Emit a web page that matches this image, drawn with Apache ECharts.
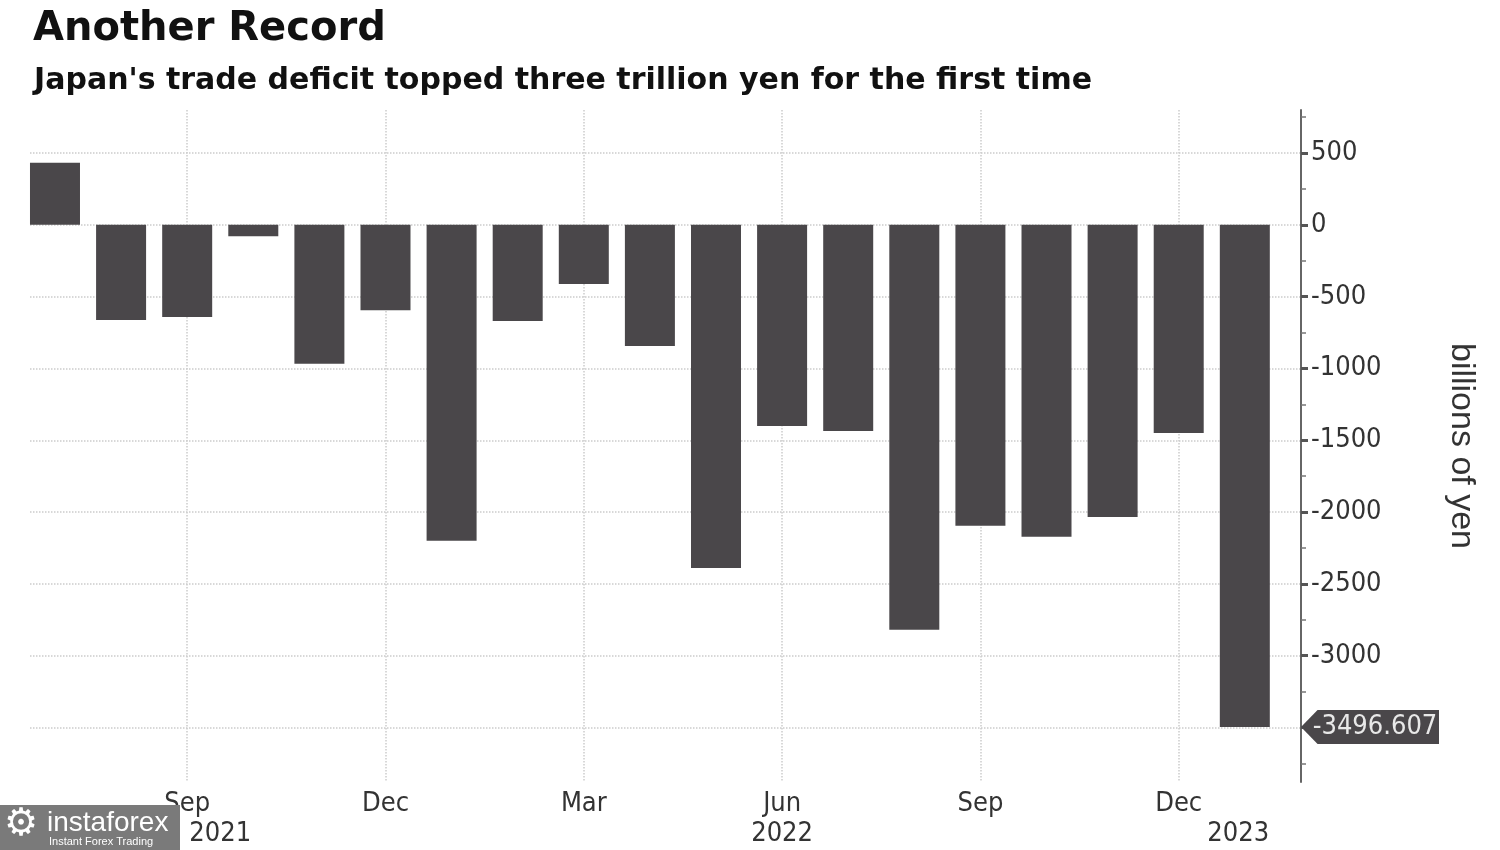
<!DOCTYPE html>
<html><head><meta charset="utf-8">
<script src="https://cdn.jsdelivr.net/npm/echarts@6/dist/echarts.min.js"></script>
<style>html,body{margin:0;padding:0;background:#fff}#c{width:1500px;height:850px}</style>
</head><body><div id="c"></div>
<script>
// Data
const months = ['Jul','Aug','Sep','Oct','Nov','Dec','Jan','Feb','Mar','Apr','May','Jun','Jul','Aug','Sep','Oct','Nov','Dec','Jan'];
const years  = ['2021','2021','2021','2021','2021','2021','2022','2022','2022','2022','2022','2022','2022','2022','2022','2022','2022','2022','2023'];
const balance = [432, -662, -641, -80, -968, -595, -2200, -669, -411, -843, -2389, -1400, -1435, -2820, -2096, -2172, -2034, -1449, -3496.607];
const monthTicks = [2, 5, 8, 11, 14, 17];
const yearTicks = [2.5, 11, 17.9];
const yearLabels = ['2021', '2022', '2023'];
const yMajor = [500, 0, -500, -1000, -1500, -2000, -2500, -3000, -3500];
const yMinor = [750, 250, -250, -750, -1250, -1750, -2250, -2750, -3250, -3750];

const X_MIN = -0.378, X_MAX = 18.85, Y_MIN = -3880, Y_MAX = 800;
const labelFont = "'Liberation Sans Narrow', 'DejaVu Sans Condensed', 'Liberation Sans', sans-serif";
const textColor = '#333';
const gridLine = {show: true, lineStyle: {type: 'dotted', color: '#cccccc', width: 1.5}};

const chart = echarts.init(document.getElementById('c'));
const lastIdx = balance.length - 1;
chart.setOption({
  backgroundColor: '#fff',
  animation: false,
  title: [
    {text: 'Another Record', left: 28, top: 5,
     textStyle: {fontFamily: 'DejaVu Sans', fontWeight: 'bold', fontSize: 40, color: '#111'}},
    {text: "Japan's trade deficit topped three trillion yen for the first time", left: 29, top: 61,
     textStyle: {fontFamily: 'DejaVu Sans', fontWeight: 'bold', fontSize: 30, color: '#111'}}
  ],
  grid: {left: 30, right: 199, top: 110, bottom: 68},
  xAxis: [
    {type: 'value', position: 'bottom', min: X_MIN, max: X_MAX,
     axisLine: {show: false, onZero: false}, axisTick: {show: false, customValues: monthTicks},
     axisLabel: {customValues: monthTicks, margin: 8, fontSize: 27, color: textColor, fontFamily: labelFont,
                 formatter: v => months[Math.round(v)]},
     splitLine: gridLine},
    {type: 'value', position: 'bottom', min: X_MIN, max: X_MAX,
     axisLine: {show: false, onZero: false}, axisTick: {show: false, customValues: yearTicks},
     axisLabel: {customValues: yearTicks, margin: 38, fontSize: 27, color: textColor, fontFamily: labelFont,
                 formatter: v => yearLabels[yearTicks.indexOf(v)]},
     splitLine: {show: false}}
  ],
  yAxis: [
    {type: 'value', position: 'right', min: Y_MIN, max: Y_MAX,
     axisLine: {show: true, onZero: false, lineStyle: {color: '#666', width: 2}},
     axisTick: {show: true, inside: false, length: 7, customValues: yMajor, lineStyle: {color: '#555', width: 3}},
     axisLabel: {customValues: yMajor, margin: 10, fontSize: 27, color: textColor, fontFamily: labelFont,
                 formatter: v => String(v)},
     splitLine: gridLine,
     name: 'billions of yen', nameLocation: 'middle', nameRotate: -90, nameGap: 143,
     nameTextStyle: {fontSize: 34, color: textColor, fontFamily: 'Liberation Sans'}},
    {type: 'value', position: 'right', min: Y_MIN, max: Y_MAX,
     axisLine: {show: false, onZero: false},
     axisTick: {show: true, inside: false, length: 5, customValues: yMinor, lineStyle: {color: '#777', width: 1.5}},
     axisLabel: {show: false}, splitLine: {show: false}}
  ],
  series: [{
    type: 'bar', xAxisIndex: 0, yAxisIndex: 0, barWidth: 50,
    itemStyle: {color: '#4a474a'},
    data: balance.map((v, i) => [i, v]),
    markPoint: {
      silent: true,
      symbol: 'path://M0,50 L12,0 L100,0 L100,100 L12,100 Z',
      symbolKeepAspect: false,
      symbolSize: [138, 34],
      symbolOffset: [69, 0],
      itemStyle: {color: '#4a474a'},
      label: {show: true, color: '#e8e8e8', fontSize: 27, fontFamily: labelFont, offset: [5, 0],
              formatter: p => String(p.value)},
      data: [{coord: [X_MAX, balance[lastIdx]], value: balance[lastIdx]}]
    }
  }],
  graphic: [
    {type: 'rect', left: 0, top: 805, shape: {width: 180, height: 45}, style: {fill: '#7a7a7a'}, z: 100},
    {type: 'text', left: 4, top: 806, style: {text: '\u2699', fontSize: 38, fill: '#fff', fontFamily: 'DejaVu Sans'}, z: 101},
    {type: 'text', left: 47, top: 809, style: {text: 'instaforex', fontSize: 28, fill: '#fff', fontFamily: 'Liberation Sans'}, z: 101},
    {type: 'text', left: 49, top: 836, style: {text: 'Instant Forex Trading', fontSize: 11, fill: '#fff', fontFamily: 'Liberation Sans'}, z: 101}
  ]
});
</script></body></html>
